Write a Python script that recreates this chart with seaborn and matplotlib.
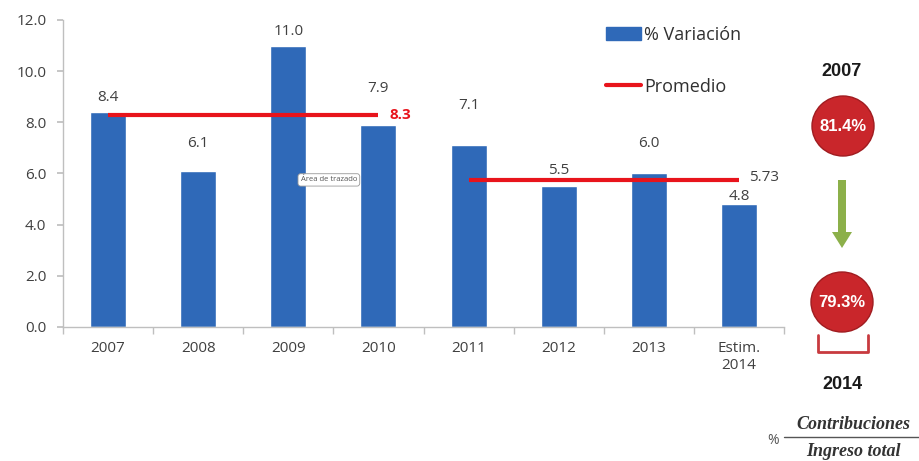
import matplotlib
matplotlib.use("Agg")
import matplotlib.pyplot as plt
import seaborn as sns
import pandas as pd
import numpy as np
from matplotlib.patches import Ellipse, FancyArrow, Patch
from matplotlib.lines import Line2D

# ---- data ----
categories = ["2007", "2008", "2009", "2010", "2011", "2012", "2013", "Estim.\n2014"]
variacion = [8.4, 6.1, 11.0, 7.9, 7.1, 5.5, 6.0, 4.8]
promedio_1_cats = ["2007", "2008", "2009", "2010"]
promedio_1 = [8.3, 8.3, 8.3, 8.3]
promedio_2_cats = ["2011", "2012", "2013", "Estim.\n2014"]
promedio_2 = [5.73, 5.73, 5.73, 5.73]
yticks = [0, 2, 4, 6, 8, 10, 12]
share_2007 = "81.4%"
share_2014 = "79.3%"

# label offsets (points) above bars, as placed in the original
label_offsets = [5, 14, 5, 21, 23, 6, 16, 0]

sns.set_theme(style="white")
plt.rcParams["font.family"] = ["Open Sans", "DejaVu Sans"]

fig = plt.figure(figsize=(9.19, 4.61), dpi=100)
ax = fig.add_axes([63/919, 1-327/461, (784-63)/919, (327-20)/461])

df = pd.DataFrame({"cat": categories, "val": variacion})
blue = "#2f69b8"
sns.barplot(data=df, x="cat", y="val", order=categories, color=blue,
            width=0.4, saturation=1, ax=ax)

pos = {c: i for i, c in enumerate(categories)}
red = "#e8141c"
ax.plot([pos[c] for c in promedio_1_cats], promedio_1, color=red, lw=3, solid_capstyle="butt")
ax.plot([pos[c] for c in promedio_2_cats], promedio_2, color=red, lw=3, solid_capstyle="butt")
ax.annotate(f"{promedio_1[-1]:.1f}", (pos[promedio_1_cats[-1]], promedio_1[-1]),
            xytext=(8, 0), textcoords="offset points", va="center", ha="left",
            color=red, fontsize=11, fontweight="bold")
ax.annotate(f"{promedio_2[-1]:.2f}", (pos[promedio_2_cats[-1]], promedio_2[-1]),
            xytext=(7, 2), textcoords="offset points", va="center", ha="left",
            color="#404040", fontsize=11)

for i, (c, v) in enumerate(zip(categories, variacion)):
    ax.annotate(f"{v:.1f}", (i, v), xytext=(0, label_offsets[i]), textcoords="offset points",
                ha="center", va="bottom", fontsize=11, color="#404040")

ax.set_ylim(0, 12)
ax.set_xlim(-0.5, len(categories) - 0.5)
ax.set_yticks(yticks)
ax.set_yticklabels([f"{t:.1f}" for t in yticks], fontsize=11, color="#404040")
ax.set_xticks(range(len(categories)))
ax.set_xticklabels(categories, fontsize=11, color="#404040")
ax.tick_params(axis="x", length=0, pad=10)
ax.tick_params(axis="y", length=4, color="#bfbfbf", left=True, pad=8)
ax.set_xticks(np.arange(-0.5, len(categories), 1), minor=True)
ax.tick_params(axis="x", which="minor", length=5, color="#bfbfbf", bottom=True, direction="out")
for s in ["top", "right"]:
    ax.spines[s].set_visible(False)
for s in ["left", "bottom"]:
    ax.spines[s].set_color("#bfbfbf")
    ax.spines[s].set_linewidth(1)
ax.set_xlabel("")
ax.set_ylabel("")

handles = [Patch(facecolor=blue, edgecolor=blue), Line2D([0], [0], color=red, lw=3)]
ax.legend(handles, ["% Variación", "Promedio"], loc="upper left",
          bbox_to_anchor=((590-63)/721, 1.035), frameon=False, fontsize=13,
          labelspacing=1.9, handlelength=1.9, handletextpad=0.2,
          labelcolor="#303030")

# tooltip artifact
ax.text(2.45, 5.75, "Área de trazado", fontsize=5.5, color="#555555", ha="center", va="center",
        bbox=dict(boxstyle="round,pad=0.35", fc="white", ec="#999999", lw=0.6))

# ---- right panel ----
rp = fig.add_axes([0, 0, 1, 1], facecolor="none")
rp.set_xlim(0, 919)
rp.set_ylim(461, 0)
rp.axis("off")

circ_red = "#c9262b"
rp.text(842, 72, "2007", ha="center", va="center", fontsize=13, fontweight="bold",
        color="#1a1a1a", family=["Liberation Sans", "DejaVu Sans"])
rp.add_patch(Ellipse((843, 126), 62, 60, fc=circ_red, ec="#a01c20", lw=1))
rp.text(843, 126, share_2007, ha="center", va="center", fontsize=12, fontweight="bold",
        color="white", family=["Liberation Sans", "DejaVu Sans"])
rp.add_patch(FancyArrow(842, 180, 0, 68, width=8, head_width=20, head_length=16,
                        length_includes_head=True, fc="#8cb04a", ec="none"))
rp.add_patch(Ellipse((842, 302), 62, 60, fc=circ_red, ec="#a01c20", lw=1))
rp.text(842, 302, share_2014, ha="center", va="center", fontsize=12, fontweight="bold",
        color="white", family=["Liberation Sans", "DejaVu Sans"])
rp.plot([818, 818, 868, 868], [335, 352, 352, 335], color="#c83a3f", lw=2)
rp.text(842, 384, "2014", ha="center", va="center", fontsize=13, fontweight="bold",
        color="#1a1a1a", family=["Liberation Sans", "DejaVu Sans"])
rp.text(773, 440, "%", ha="center", va="center", fontsize=10, color="#555555")
rp.text(853, 424, "Contribuciones", ha="center", va="center", fontsize=13,
        fontweight="bold", style="italic", color="#333333",
        family=["Liberation Serif", "DejaVu Serif"])
rp.plot([784, 919], [437, 437], color="#555555", lw=1)
rp.text(853, 451, "Ingreso total", ha="center", va="center", fontsize=13,
        fontweight="bold", style="italic", color="#333333",
        family=["Liberation Serif", "DejaVu Serif"])

fig.savefig("out.png", dpi=100)
